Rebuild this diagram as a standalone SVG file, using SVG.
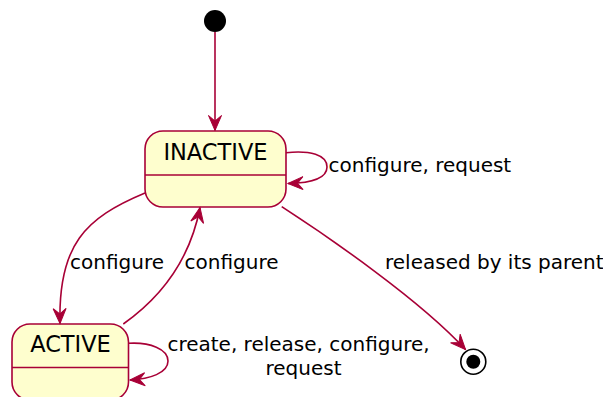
<svg xmlns="http://www.w3.org/2000/svg" width="603" height="397" viewBox="0 0 603 397">
  <defs>
    <style>
      .state { fill: #FEFECE; stroke: #A80036; stroke-width: 1.6; }
      .sep { stroke: #A80036; stroke-width: 1.6; }
      .name { font-family: "DejaVu Sans", Verdana, sans-serif; font-size: 22.5px; fill: #000; }
      .edge { fill: none; stroke: #A80036; stroke-width: 1.6; }
      .lbl { font-family: "DejaVu Sans", Verdana, sans-serif; font-size: 20px; fill: #000; }
    </style>
    <marker id="arrow" markerUnits="userSpaceOnUse" markerWidth="20" markerHeight="16" viewBox="-16 -8 20 16" refX="0" refY="0" orient="auto">
      <path d="M0,0 L-15,-6.5 L-9.5,0 L-15,6.5 Z" fill="#A80036" stroke="#A80036" stroke-width="1"/>
    </marker>
  </defs>

  <!-- initial pseudo-state -->
  <g id="start">
    <circle cx="215" cy="21" r="11" fill="#000"/>
  </g>

  <!-- INACTIVE state -->
  <g id="inactive">
    <rect class="state" x="145" y="131" width="141" height="76" rx="18" ry="18"/>
    <line class="sep" x1="145" y1="175" x2="286" y2="175"/>
    <text class="name" x="215.5" y="159.5" text-anchor="middle">INACTIVE</text>
  </g>

  <!-- ACTIVE state -->
  <g id="active">
    <rect class="state" x="12" y="324" width="116.5" height="76" rx="18" ry="18"/>
    <line class="sep" x1="12" y1="367.5" x2="128.5" y2="367.5"/>
    <text class="name" x="70.5" y="352" text-anchor="middle">ACTIVE</text>
  </g>

  <!-- final pseudo-state -->
  <g id="end">
    <circle cx="473.3" cy="361.7" r="12.5" fill="none" stroke="#000" stroke-width="1.6"/>
    <circle cx="473.3" cy="361.7" r="7" fill="#000"/>
  </g>

  <!-- transitions -->
  <g id="connectors">
    <path class="edge" marker-end="url(#arrow)" d="M215,32 L215,130.5"/>
    <path class="edge" marker-end="url(#arrow)" d="M286,152.7 C310,150 327,155 327,167 C327,179 310,183 288,183.5"/>
    <path class="edge" marker-end="url(#arrow)" d="M128.5,343.3 C150,342 168,349 168,361 C168,373 150,379 130,380"/>
    <path class="edge" marker-end="url(#arrow)" d="M145,193 C85,218 58,245 60,323.5"/>
    <path class="edge" marker-end="url(#arrow)" d="M123.3,324 C160,298 190,260 200,207.5"/>
    <path class="edge" marker-end="url(#arrow)" d="M281.7,206.7 C330,238 420,300 465.5,349.5"/>
  </g>

  <!-- transition labels -->
  <g id="labels">
    <text class="lbl" x="328.5" y="171.5">configure, request</text>
    <text class="lbl" x="385" y="268.5">released by its parent</text>
    <text class="lbl" x="70" y="268.5">configure</text>
    <text class="lbl" x="184.5" y="268.5">configure</text>
    <text class="lbl" x="298.5" y="350.5" text-anchor="middle">create, release, configure,</text>
    <text class="lbl" x="303.5" y="375" text-anchor="middle">request</text>
  </g>
</svg>
